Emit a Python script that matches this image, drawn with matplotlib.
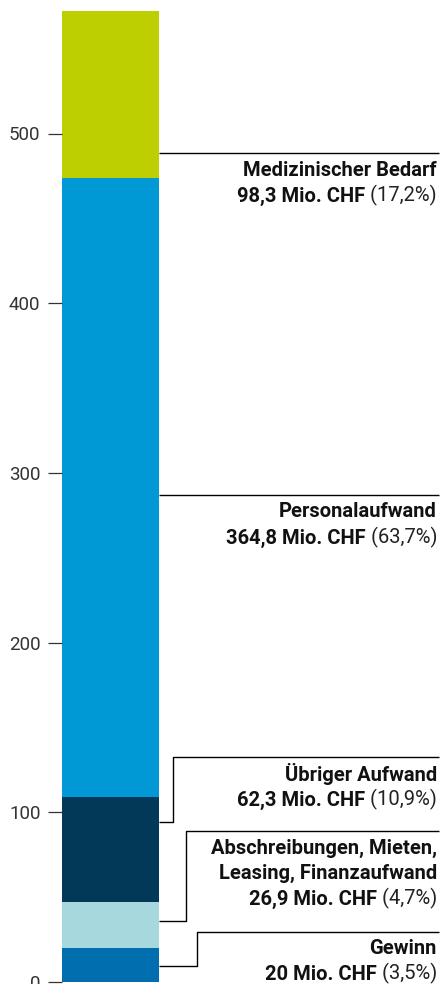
"""Stacked single-column breakdown of expenses and profit (Mio. CHF)."""

import matplotlib.pyplot as plt

# data, bottom to top
categories = [
    "Gewinn",
    "Abschreibungen, Mieten,\nLeasing, Finanzaufwand",
    "Übriger Aufwand",
    "Personalaufwand",
    "Medizinischer Bedarf",
]
values = [20.0, 26.9, 62.3, 364.8, 98.3]
value_labels = ["20", "26,9", "62,3", "364,8", "98,3"]
shares = ["3,5%", "4,7%", "10,9%", "63,7%", "17,2%"]
colors = ["#006eaf", "#a6d8de", "#023858", "#0099d6", "#bdcf00"]
yticks = [0, 100, 200, 300, 400, 500]

# layout (pixels / data units)
W, H = 441, 984
PX_PER_UNIT = 1.697
Y0_PX = 982  # pixel row of value 0
AX_LEFT = 62
BAR_W = 97
RIGHT = 375  # right edge of labels in x-data units
# leader lines: (anchor on bar, elbow x or None, label line y)
leaders = [
    (9.4, 135, 29.5),
    (36.0, 124, 89.0),
    (94.3, 111, 132.6),
    (287.0, None, 287.0),
    (488.5, None, 488.5),
]


def main() -> None:
    plt.rcParams["font.family"] = ["Roboto", "DejaVu Sans"]
    fig = plt.figure(figsize=(W / 100, H / 100), dpi=100)
    ymax = 578
    ax = fig.add_axes([
        AX_LEFT / W,
        (H - Y0_PX) / H,
        (W - AX_LEFT) / W,
        ymax * PX_PER_UNIT / H,
    ])
    ax.set_xlim(0, W - AX_LEFT)
    ax.set_ylim(0, ymax)

    bottom = 0.0
    for val, col in zip(values, colors):
        ax.bar(0, val, width=BAR_W, bottom=bottom, color=col, align="edge")
        bottom += val

    for s in ax.spines.values():
        s.set_visible(False)
    ax.set_xticks([])
    ax.set_yticks(yticks)
    ax.tick_params(axis="y", length=10, width=0.9, color="#333333",
                   pad=5.5, labelsize=13.5, labelcolor="#333333")

    line_kw = dict(color="black", lw=1.0, solid_capstyle="butt")
    for i, (anchor, elbow, ly) in enumerate(leaders):
        if elbow is None:
            ax.plot([BAR_W, RIGHT + 2], [ly, ly], **line_kw)
        else:
            ax.plot([BAR_W, elbow, elbow, RIGHT + 2],
                    [anchor, anchor, ly, ly], **line_kw)

        name_lines = categories[i].split("\n")
        lines_px = [17 + 25 * k for k in range(len(name_lines) + 1)]
        for k, name in enumerate(name_lines):
            ax.annotate(name, xy=(RIGHT, ly), xytext=(0, -lines_px[k] * 0.72),
                        textcoords="offset points", ha="right", va="center",
                        fontsize=14.5, fontweight="bold", color="#111111")
        reg = ax.annotate(f" ({shares[i]})", xy=(RIGHT, ly),
                          xytext=(0, -lines_px[-1] * 0.72),
                          textcoords="offset points", ha="right", va="center",
                          fontsize=14.5, color="#222222")
        ax.annotate(f"{value_labels[i]} Mio. CHF", xy=(0, 0), xycoords=reg,
                    ha="right", va="bottom", fontsize=14.5, fontweight="bold",
                    color="#111111")

    fig.savefig("out.png", dpi=100)


if __name__ == "__main__":
    main()
